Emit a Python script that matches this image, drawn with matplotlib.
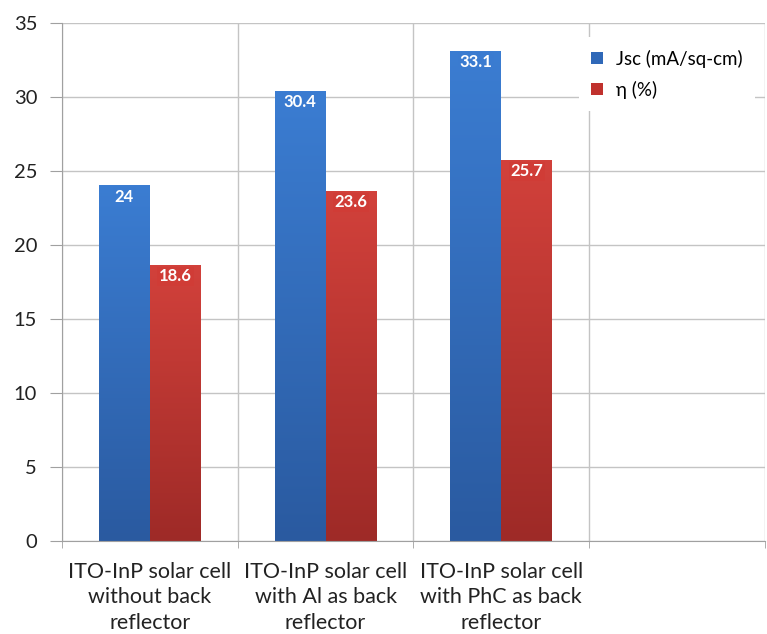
import numpy as np
import matplotlib
matplotlib.use('Agg')
import matplotlib.pyplot as plt
from matplotlib.colors import LinearSegmentedColormap
from matplotlib.patches import Patch

categories = [
    "ITO-InP solar cell\nwithout back\nreflector",
    "ITO-InP solar cell\nwith Al as back\nreflector",
    "ITO-InP solar cell\nwith PhC as back\nreflector",
    "",
]
jsc = [24, 30.4, 33.1]
eta = [18.6, 23.6, 25.7]
series_names = ["Jsc (mA/sq-cm)", "η (%)"]

plt.rcParams['font.family'] = ['Lato', 'DejaVu Sans']

fig = plt.figure(figsize=(7.67, 6.34), dpi=100)
ax = fig.add_axes([0.081, 0.147, 0.916, 0.817])

n_cat = len(categories)
width = 0.29
blue_cmap = LinearSegmentedColormap.from_list("b", ["#2a5aa0", "#3b7dd2"])
red_cmap = LinearSegmentedColormap.from_list("r", ["#9e2a27", "#d2413b"])
grad = np.linspace(0, 1, 256).reshape(-1, 1)


def draw_bars(values, offset, cmap, label_bg):
    for i, v in enumerate(values):
        x0 = i + 0.5 + offset - width / 2
        ax.imshow(grad, extent=[x0, x0 + width, 0, v], origin='lower',
                  cmap=cmap, aspect='auto', zorder=2)
        ax.text(x0 + width / 2, v - 0.2, f"{v:g}", ha='center', va='top',
                color='white', fontsize=12, fontweight='bold', zorder=4,
                bbox=dict(boxstyle='square,pad=0.1', fc=label_bg, ec='none'))


draw_bars(jsc, -width / 2, blue_cmap, "#3a7bd0")
draw_bars(eta, width / 2, red_cmap, "#d03c36")

ax.set_xlim(0, n_cat)
ax.set_ylim(0, 35)

ax.set_yticks(np.arange(0, 36, 5))
ax.set_xticks(np.arange(n_cat) + 0.5)
ax.set_xticklabels(categories, fontsize=15.5, color='#222222', linespacing=1.36)
ax.set_xticks(np.arange(n_cat + 1), minor=True)
ax.tick_params(axis='x', which='major', length=0, pad=15)
ax.tick_params(axis='x', which='minor', length=5, color='#a0a0a0')
ax.tick_params(axis='y', length=9, color='#a0a0a0', labelsize=14.5,
               labelcolor='#222222', pad=9)

ax.grid(axis='y', color='#c4c4c4', linewidth=1, zorder=0)
ax.grid(axis='x', which='minor', color='#c4c4c4', linewidth=1, zorder=0)
ax.set_axisbelow(True)
for side in ['top', 'right']:
    ax.spines[side].set_visible(False)
for side in ['left', 'bottom']:
    ax.spines[side].set_color('#a0a0a0')

handles = [Patch(facecolor="#2f68b8"), Patch(facecolor="#c0312d")]
leg = ax.legend(handles, series_names, loc='upper left',
                bbox_to_anchor=(0.736, 0.972), frameon=True, fontsize=13.5,
                handlelength=0.6, handleheight=0.6, handletextpad=0.7,
                labelspacing=0.7, borderaxespad=0, borderpad=0.65)
leg.get_frame().set_edgecolor('none')
leg.get_frame().set_facecolor('white')
leg.get_frame().set_alpha(1)
leg.get_frame().set_boxstyle('square', pad=0)
leg.set_zorder(5)

fig.savefig("out.png", dpi=100)
